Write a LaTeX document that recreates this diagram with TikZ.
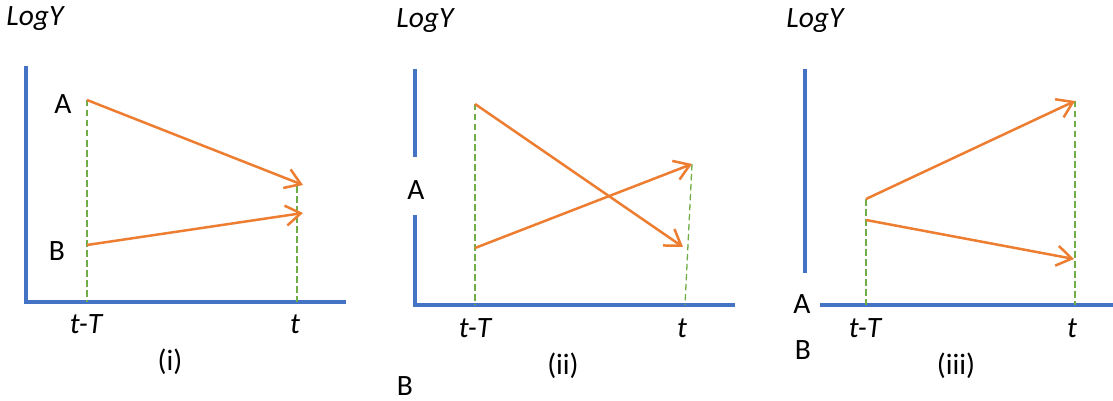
\documentclass[tikz,border=0pt]{standalone}
\usepackage{fontspec}
\setmainfont{Carlito}
\usetikzlibrary{arrows.meta}
\definecolor{axisblue}{HTML}{4472C4}
\definecolor{arrorange}{HTML}{ED7D31}
\definecolor{guidegreen}{HTML}{70AD47}
\tikzset{
  axisline/.style={draw=axisblue, line width=3.5pt},
  movearrow/.style={draw=arrorange, line width=2.5pt, -{Straight Barb[length=15pt,width=20pt,line width=2.5pt]}},
  guide/.style={draw=guidegreen, line width=1.3pt, dash pattern=on 6.5pt off 3.5pt},
  lbl/.style={inner sep=0pt, font=\fontsize{29.5}{34}\selectfont},
  ilbl/.style={inner sep=0pt, font=\fontsize{29.5}{34}\selectfont\itshape},
}
\begin{document}
\begin{tikzpicture}[x=1pt,y=-1pt]
\useasboundingbox (0,0) rectangle (1113,401);
% ---------- panel (i)
\node[ilbl] (ly1) at (35,19) {LogY};
\coordinate (y1top) at (26,66);
\coordinate (o1) at (26,302);
\coordinate (x1end) at (346,302);
\draw[axisline] (y1top) -- (o1) -- (x1end);
\node[lbl] (A1) at (63,104) {A};
\node[lbl] (B1) at (57,251) {B};
\coordinate (a1s) at (87,100);
\coordinate (a1e) at (303,185);
\coordinate (b1s) at (87,245);
\coordinate (b1e) at (303,213);
\coordinate (g1a) at (87,302);
\coordinate (g1t) at (297,186);
\coordinate (g1b) at (297,302);
\draw[guide] (a1s) -- (g1a);
\draw[guide] (g1t) -- (g1b);
\draw[movearrow] (a1s) -- (a1e);
\draw[movearrow] (b1s) -- (b1e);
\node[ilbl] (tT1) at (86,324) {t-T};
\node[ilbl] (t1) at (295,324) {t};
\node[lbl] (c1) at (170,362) {(i)};
% ---------- panel (ii)
\node[ilbl] (ly2) at (425,21) {LogY};
\coordinate (y2top) at (415,69);
\coordinate (y2gapa) at (415,157);
\coordinate (y2gapb) at (415,215);
\coordinate (o2) at (415,305);
\coordinate (x2end) at (735,305);
\draw[axisline] (y2top) -- (y2gapa);
\draw[axisline] (y2gapb) -- (o2) -- (x2end);
\node[lbl] (A2) at (416,190) {A};
\node[lbl] (B2) at (405,386) {B};
\coordinate (a2s) at (475,104);
\coordinate (a2e) at (683,247);
\coordinate (b2s) at (475,248);
\coordinate (b2e) at (692,164);
\coordinate (g2a) at (475,305);
\coordinate (g2b) at (685,305);
\draw[guide] (a2s) -- (g2a);
\draw[guide] (b2e) -- (g2b);
\draw[movearrow] (a2s) -- (a2e);
\draw[movearrow] (b2s) -- (b2e);
\node[ilbl] (tT2) at (475,328) {t-T};
\node[ilbl] (t2) at (682,328) {t};
\node[lbl] (c2) at (563,366) {(ii)};
% ---------- panel (iii)
\node[ilbl] (ly3) at (815,21) {LogY};
\coordinate (y3top) at (805,69);
\coordinate (y3bot) at (805,273);
\coordinate (x3beg) at (820,305);
\coordinate (x3end) at (1113,305);
\draw[axisline] (y3top) -- (y3bot);
\draw[axisline] (x3beg) -- (x3end);
\node[lbl] (A3) at (802,304) {A};
\node[lbl] (B3) at (803,350) {B};
\coordinate (a3s) at (866,199);
\coordinate (a3e) at (1075,101);
\coordinate (b3s) at (866,220);
\coordinate (b3e) at (1074,259);
\coordinate (g3a) at (866,305);
\coordinate (g3b) at (1075,305);
\draw[guide] (a3s) -- (g3a);
\draw[guide] (a3e) -- (g3b);
\draw[movearrow] (a3s) -- (a3e);
\draw[movearrow] (b3s) -- (b3e);
\node[ilbl] (tT3) at (865,328) {t-T};
\node[ilbl] (t3) at (1072,328) {t};
\node[lbl] (c3) at (956,366) {(iii)};
\end{tikzpicture}
\end{document}
